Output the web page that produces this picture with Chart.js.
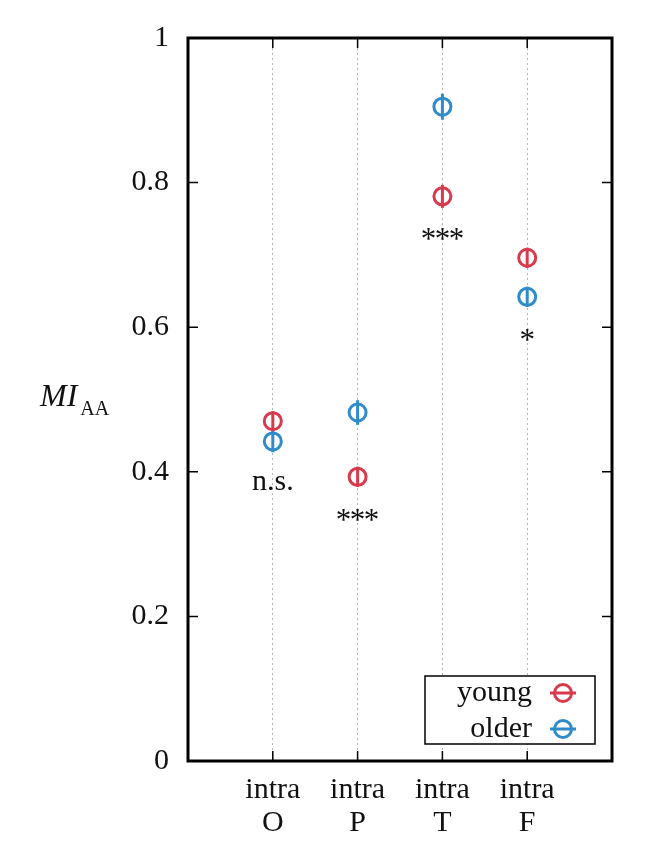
<!DOCTYPE html>
<html><head><meta charset="utf-8">
<script src="https://cdn.jsdelivr.net/npm/chart.js@4"></script>
<style>html,body{margin:0;padding:0;background:#fff}#wrap{width:669px;height:847px;position:relative}</style>
</head><body><div id="wrap"><canvas id="c" width="669" height="847"></canvas></div>
<script>
const categories = [['intra','O'],['intra','P'],['intra','T'],['intra','F']];
const categoryX = [1, 2, 3, 4];
const youngValues = [0.470, 0.393, 0.781, 0.696];
const youngErrors = [0.014, 0.014, 0.016, 0.014];
const olderValues = [0.442, 0.482, 0.905, 0.642];
const olderErrors = [0.015, 0.017, 0.018, 0.014];
const significance = ['n.s.', '***', '***', '*'];
const yTicks = [0, 0.2, 0.4, 0.6, 0.8, 1];
const seriesNames = ['young', 'older'];

const RED = '#d83a4c', BLUE = '#2f8bc9';
const SERIF = '"Liberation Serif", "Times New Roman", serif';

function pts(vals){ return vals.map((v,i)=>({x:categoryX[i], y:v})); }

const decor = {
  id:'decor',
  beforeDatasetsDraw(chart){
    const ctx = chart.ctx, xs = chart.scales.x, ys = chart.scales.y;
    const sets = [[youngValues, youngErrors, RED],[olderValues, olderErrors, BLUE]];
    ctx.save();
    ctx.lineWidth = 3;
    sets.forEach(([vals, errs, col])=>{
      ctx.strokeStyle = col;
      vals.forEach((v,i)=>{
        const x = xs.getPixelForValue(categoryX[i]);
        ctx.beginPath();
        ctx.moveTo(x, ys.getPixelForValue(v - errs[i]));
        ctx.lineTo(x, ys.getPixelForValue(v + errs[i]));
        ctx.stroke();
      });
    });
    ctx.restore();
  },
  afterDraw(chart){
    const ctx = chart.ctx, xs = chart.scales.x, ys = chart.scales.y, a = chart.chartArea;
    ctx.save();
    ctx.strokeStyle = '#000'; ctx.lineWidth = 1.5;
    yTicks.forEach(t=>{
      const y = ys.getPixelForValue(t);
      ctx.beginPath(); ctx.moveTo(a.left, y); ctx.lineTo(a.left+10, y);
      ctx.moveTo(a.right, y); ctx.lineTo(a.right-10, y); ctx.stroke();
    });
    categoryX.forEach(c=>{
      const x = xs.getPixelForValue(c);
      ctx.beginPath(); ctx.moveTo(x, a.bottom); ctx.lineTo(x, a.bottom-10);
      ctx.moveTo(x, a.top); ctx.lineTo(x, a.top+10); ctx.stroke();
    });
    ctx.lineWidth = 3;
    ctx.strokeRect(a.left, a.top, a.right-a.left, a.bottom-a.top);
    // significance labels
    ctx.fillStyle = '#111';
    ctx.textAlign = 'center'; ctx.textBaseline = 'middle';
    significance.forEach((s,i)=>{
      const lower = Math.min(youngValues[i], olderValues[i]);
      const x = xs.getPixelForValue(categoryX[i]);
      const y = ys.getPixelForValue(lower) + 41;
      if (s.startsWith('*')) {
        ctx.font = '31px ' + SERIF;
        const n = s.length, step = 14;
        for (let k = 0; k < n; k++) {
          ctx.fillText('*', x + (k - (n-1)/2) * step, y + 4);
        }
      } else {
        ctx.font = '30px ' + SERIF;
        ctx.fillText(s, x, y);
      }
    });
    // legend
    const lx0 = a.right-187, lx1 = a.right-17, ly0 = a.bottom-85, ly1 = a.bottom-17;
    ctx.fillStyle = '#fff'; ctx.fillRect(lx0, ly0, lx1-lx0, ly1-ly0);
    ctx.lineWidth = 1.5; ctx.strokeStyle = '#000';
    ctx.strokeRect(lx0, ly0, lx1-lx0, ly1-ly0);
    const cols = [RED, BLUE];
    seriesNames.forEach((n,i)=>{
      const y = a.bottom - 68 + i*36;
      ctx.fillStyle = '#111'; ctx.textAlign = 'right'; ctx.textBaseline = 'middle';
      ctx.font = '30px ' + SERIF;
      ctx.fillText(n, a.right-80, y);
      const mx = a.right-49;
      ctx.strokeStyle = cols[i]; ctx.lineWidth = 3;
      ctx.beginPath(); ctx.moveTo(mx-13, y); ctx.lineTo(mx+13, y); ctx.stroke();
      ctx.beginPath(); ctx.arc(mx, y, 8.5, 0, Math.PI*2); ctx.stroke();
    });
    // y title
    const cy = (a.top + a.bottom)/2 + 6;
    ctx.fillStyle = '#111'; ctx.textAlign = 'left'; ctx.textBaseline = 'alphabetic';
    ctx.font = 'italic 32px ' + SERIF;
    ctx.fillText('MI', 40, cy);
    const w = ctx.measureText('MI').width;
    ctx.font = '20px ' + SERIF;
    ctx.fillText('AA', 40 + w + 3, cy + 9);
    ctx.restore();
  }
};

new Chart(document.getElementById('c'), {
  type: 'scatter',
  data: {
    datasets: [
      {label: seriesNames[0], data: pts(youngValues), borderColor: RED, backgroundColor: 'rgba(0,0,0,0)',
       pointRadius: 8.5, pointHoverRadius: 8.5, borderWidth: 3, pointBorderWidth: 3},
      {label: seriesNames[1], data: pts(olderValues), borderColor: BLUE, backgroundColor: 'rgba(0,0,0,0)',
       pointRadius: 8.5, pointHoverRadius: 8.5, borderWidth: 3, pointBorderWidth: 3}
    ]
  },
  options: {
    responsive: false, animation: false, devicePixelRatio: 1,
    layout: {padding: {top: 38, right: 57, bottom: 0, left: 0}},
    plugins: {legend: {display: false}, tooltip: {enabled: false}},
    scales: {
      x: {
        type: 'linear', min: 0, max: 5,
        afterBuildTicks: s => { s.ticks = categoryX.map(v => ({value: v})); },
        afterFit: s => { s.height = 86; },
        ticks: {
          callback: v => categories[categoryX.indexOf(v)],
          font: {family: SERIF, size: 30, lineHeight: 1.12}, color: '#111',
          padding: 12, maxRotation: 0, autoSkip: false
        },
        grid: {display: true, color: '#b5b5b5', lineWidth: 1, drawTicks: false},
        border: {display: false, dash: [2, 3]}
      },
      y: {
        type: 'linear', min: 0, max: 1,
        afterBuildTicks: s => { s.ticks = yTicks.map(v => ({value: v})); },
        afterFit: s => { s.width = 188; },
        ticks: {
          callback: v => (v === 0 || v === 1) ? String(v) : v.toFixed(1),
          font: {family: SERIF, size: 30}, color: '#111', padding: 19
        },
        grid: {display: false, drawTicks: false},
        border: {display: false}
      }
    }
  },
  plugins: [decor]
});
</script>
</body></html>
